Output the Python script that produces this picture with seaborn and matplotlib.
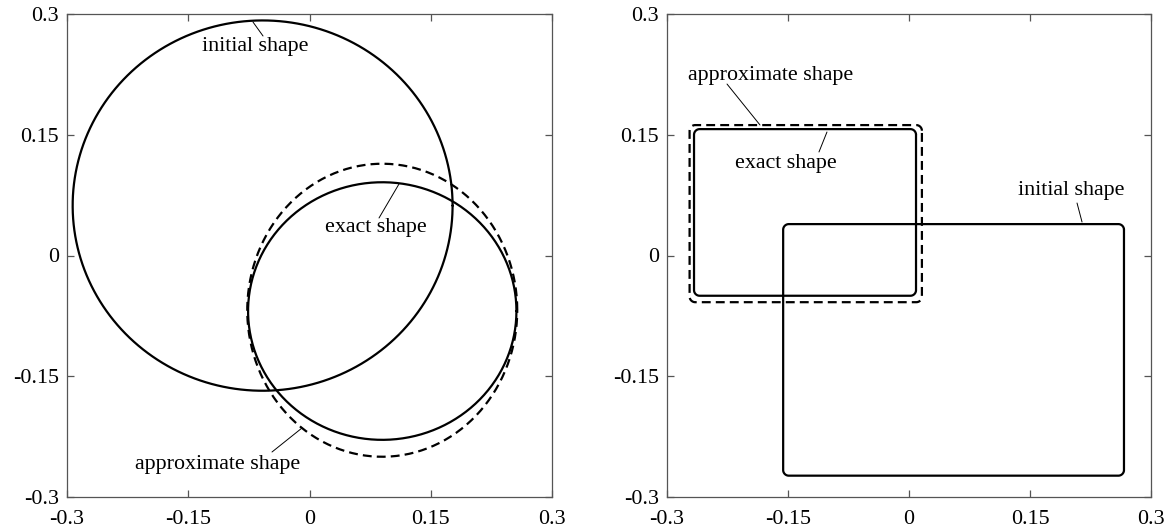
import numpy as np
import pandas as pd
import matplotlib
matplotlib.use("Agg")
import matplotlib.pyplot as plt
import seaborn as sns

# ---------------- data ----------------
tick_values = [-0.3, -0.15, 0.0, 0.15, 0.3]
tick_labels = ["-0.3", "-0.15", "0", "0.15", "0.3"]

# left panel: ellipses (center x, center y, radius x, radius y)
circ_initial = [-0.058, 0.062, 0.235, 0.230]
circ_exact = [0.090, -0.069, 0.166, 0.160]
circ_approx = [0.090, -0.068, 0.167, 0.182]

# right panel: rounded rectangles (x0, x1, y0, y1, corner radius)
rect_initial = [-0.156, 0.2665, -0.2735, 0.039, 0.007]
rect_exact = [-0.2665, 0.0087, -0.050, 0.157, 0.007]
rect_approx = [-0.272, 0.016, -0.058, 0.162, 0.007]

# annotation labels: text, text x, text y, leader start, leader end
left_labels = [
    ("initial shape", -0.0674, 0.2602, (-0.0699, 0.2900), (-0.0575, 0.2727)),
    ("exact shape", 0.0817, 0.0342, (0.1107, 0.0888), (0.0860, 0.0466)),
    ("approximate shape", -0.1138, -0.2602, (-0.0464, -0.2441), (-0.0093, -0.2143)),
]
right_labels = [
    ("approximate shape", -0.1717, 0.2242, (-0.2256, 0.2130), (-0.1847, 0.1621)),
    ("exact shape", -0.1531, 0.1137, (-0.1017, 0.1534), (-0.1116, 0.1286)),
    ("initial shape", 0.2008, 0.0805, (0.2083, 0.0652), (0.2145, 0.0416)),
]


def ellipse_frame(p, n=400):
    cx, cy, rx, ry = p
    t = np.linspace(0, 2 * np.pi, n)
    return pd.DataFrame({"x": cx + rx * np.cos(t), "y": cy + ry * np.sin(t),
                         "order": np.arange(n)})


def rrect_frame(p, n=20):
    x0, x1, y0, y1, r = p
    pts = []
    corners = [(x1 - r, y1 - r, 0.0), (x0 + r, y1 - r, 0.5 * np.pi),
               (x0 + r, y0 + r, np.pi), (x1 - r, y0 + r, 1.5 * np.pi)]
    for cx, cy, a0 in corners:
        a = np.linspace(a0, a0 + 0.5 * np.pi, n)
        for ai in a:
            pts.append((cx + r * np.cos(ai), cy + r * np.sin(ai)))
    pts.append(pts[0])
    pts = np.array(pts)
    return pd.DataFrame({"x": pts[:, 0], "y": pts[:, 1], "order": np.arange(len(pts))})


sns.set_theme(style="white")
plt.rcParams["font.family"] = ["Liberation Serif", "DejaVu Serif"]
plt.rcParams["axes.edgecolor"] = "#555555"
plt.rcParams["axes.linewidth"] = 0.9

W, H = 1165, 531
fig = plt.figure(figsize=(W / 100, H / 100), dpi=100)
ax1 = fig.add_axes([67 / W, 1 - 497 / H, 485 / W, 483 / H])
ax2 = fig.add_axes([667 / W, 1 - 497 / H, 484 / W, 483 / H])

FS = 15.8
solid_kw = dict(color="black", linewidth=1.6, sort=False, estimator=None)
dash_kw = dict(color="black", linewidth=1.6, sort=False, estimator=None,
               linestyle=(0, (4.0, 2.3)))

sns.lineplot(data=ellipse_frame(circ_initial), x="x", y="y", ax=ax1, **solid_kw)
sns.lineplot(data=ellipse_frame(circ_exact), x="x", y="y", ax=ax1, **solid_kw)
sns.lineplot(data=ellipse_frame(circ_approx), x="x", y="y", ax=ax1, **dash_kw)

sns.lineplot(data=rrect_frame(rect_initial), x="x", y="y", ax=ax2, **solid_kw)
sns.lineplot(data=rrect_frame(rect_exact), x="x", y="y", ax=ax2, **solid_kw)
sns.lineplot(data=rrect_frame(rect_approx), x="x", y="y", ax=ax2, **dash_kw)

for ax, labels in ((ax1, left_labels), (ax2, right_labels)):
    for txt, tx, ty, p0, p1 in labels:
        ax.text(tx, ty, txt, ha="center", va="center", fontsize=FS, color="black")
        ax.plot([p0[0], p1[0]], [p0[1], p1[1]], color="black", linewidth=0.7)
    ax.set_xlim(-0.3, 0.3)
    ax.set_ylim(-0.3, 0.3)
    ax.set_xticks(tick_values)
    ax.set_xticklabels(tick_labels)
    ax.set_yticks(tick_values)
    ax.set_yticklabels(tick_labels)
    ax.set_xlabel("")
    ax.set_ylabel("")
    ax.tick_params(direction="in", length=5, width=0.9, color="#555555",
                   top=True, right=True, bottom=True, left=True,
                   labelsize=FS, labelcolor="black")
    ax.tick_params(axis="x", pad=9)
    ax.tick_params(axis="y", pad=6)
    for s in ax.spines.values():
        s.set_visible(True)

fig.savefig("out.png", dpi=100, facecolor="white")
